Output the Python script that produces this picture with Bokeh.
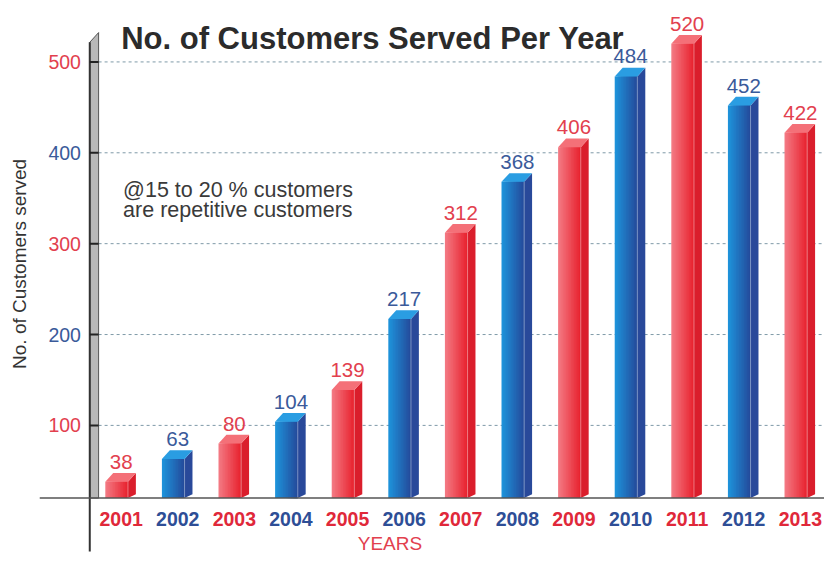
import math
from bokeh.plotting import figure
from bokeh.embed import file_html
from bokeh.resources import INLINE
from bokeh.core.properties import value

# ---------------- data ----------------
years = [2001, 2002, 2003, 2004, 2005, 2006, 2007, 2008, 2009, 2010, 2011, 2012, 2013]
customers = [38, 63, 80, 104, 139, 217, 312, 368, 406, 484, 520, 452, 422]
year_labels = [str(y) for y in years]
y_ticks = [100, 200, 300, 400, 500]
y_tick_labels = ["100", "200", "300", "400", "500"]
title_text = "No. of Customers Served Per Year"
note_lines = ["@15 to 20 % customers", "are repetitive customers"]
y_title = "No. of Customers served"
x_title = "YEARS"

# ---------------- styling / geometry ----------------
W, H = 824, 553
SX = 57.7          # reference px per year
SY = 0.935         # reference px per customer unit
BASE = 20          # value at the baseline
REF_X0 = 123       # reference pixel centre of first bar


def X(px):
    return years[0] + (px - REF_X0) / SX


def Y(py):
    return BASE + (512 - py) / SY


RED = dict(l=(243, 120, 130), r=(232, 36, 48), side="#DA1E2C", top="#F47078",
           text="#E2404E", year="#E0283A")
BLUE = dict(l=(30, 146, 218), r=(36, 76, 156), side="#29499A", top="#2A9DE2",
            text="#3A5A9A", year="#2E4E96")
FONT = value("Liberation Sans")

p = figure(width=W, height=H, x_range=(X(0), X(840)), y_range=(Y(569), Y(0)),
           x_axis_type=None, y_axis_type=None, toolbar_location=None,
           output_backend="svg", min_border=0)
p.outline_line_color = None
p.background_fill_color = "white"
p.border_fill_color = "white"

# gridlines
p.segment(x0=[X(100)] * len(y_ticks), x1=[X(840)] * len(y_ticks), y0=y_ticks, y1=y_ticks,
          line_color="#7f9aa8", line_width=1, line_dash="3 3")

# bars (3D, with gradient front faces)
FL, FR, SR = -0.28, 0.12, 0.26
DEPTH = 9 / SY
N = 14
ql, qr, qb, qt, qc = [], [], [], [], []
sx, sy, scol = [], [], []
tx, ty, tcol = [], [], []
lab_col, yr_col = [], []


def mix(a, b, t):
    return "#%02x%02x%02x" % tuple(int(round(a[i] + (b[i] - a[i]) * t)) for i in range(3))


for i, (yr, v) in enumerate(zip(years, customers)):
    pal = RED if i % 2 == 0 else BLUE
    lab_col.append(pal["text"])
    yr_col.append(pal["year"])
    w = (FR - FL) / N
    for k in range(N):
        ql.append(yr + FL + k * w)
        qr.append(yr + FR)
        qb.append(BASE)
        qt.append(v)
        qc.append(mix(pal["l"], pal["r"], k / (N - 1)))
    sx.append([yr + FR, yr + FR, yr + SR, yr + SR])
    sy.append([BASE, v, v + DEPTH, BASE + DEPTH * 0.45])
    scol.append(pal["side"])
    tx.append([yr + FL, yr + FR, yr + SR, yr + FL + (SR - FR)])
    ty.append([v, v, v + DEPTH, v + DEPTH])
    tcol.append(pal["top"])

p.quad(left=ql, right=qr, bottom=qb, top=qt, fill_color=qc, line_color=None)
p.patches(xs=sx, ys=sy, fill_color=scol, line_color=None)
p.patches(xs=tx, ys=ty, fill_color=tcol, line_color=None)
p.segment(x0=[yr + FR for yr in years], x1=[yr + FR for yr in years],
          y0=[BASE] * len(years), y1=customers, line_color="white", line_alpha=0.4, line_width=1)

# value labels
p.text(x=years, y=[v + 22 for v in customers], text=[str(v) for v in customers],
       text_color=lab_col, text_font=FONT, text_font_size="20.5px",
       text_align="center", text_baseline="middle")

# left post (axis)
p.patch(x=[X(91), X(100), X(100), X(91)], y=[BASE, BASE, Y(33), Y(43)],
        fill_color="#b8b8b8", line_color="#555555", line_width=1)
p.segment(x0=[X(91)], x1=[X(91)], y0=[Y(567)], y1=[Y(43)], line_color="#333333", line_width=2)
p.segment(x0=[X(91)] * len(y_ticks), x1=[X(100)] * len(y_ticks), y0=y_ticks, y1=y_ticks,
          line_color="#222222", line_width=2)
p.text(x=[X(82)] * len(y_ticks), y=y_ticks, text=y_tick_labels,
       text_color=[RED["text"] if k % 2 == 0 else BLUE["text"] for k in range(len(y_ticks))],
       text_font=FONT, text_font_size="19.5px", text_align="right", text_baseline="middle")

# baseline
p.segment(x0=[X(40)], x1=[X(840)], y0=[BASE], y1=[BASE], line_color="#555555", line_width=1.5)

# year labels
p.text(x=years, y=[Y(533)] * len(years), text=year_labels, text_color=yr_col,
       text_font=FONT, text_font_style="bold",
       text_font_size="19.5px", text_align="center", text_baseline="middle")

# axis titles
p.text(x=[X(397)], y=[Y(559)], text=[x_title], text_color=RED["text"], text_font=FONT,
       text_font_size="19px", text_align="center", text_baseline="middle")
p.text(x=[X(19)], y=[Y(271)], text=[y_title], angle=math.pi / 2, text_color="#333333",
       text_font=FONT, text_font_size="19px", text_align="center", text_baseline="middle")

# title and note
p.text(x=[X(123)], y=[Y(39)], text=[title_text], text_color="#2b2b2b", text_font=FONT,
       text_font_style="bold", text_font_size="31px", text_align="left",
       text_baseline="middle")
p.text(x=[X(125)] * 2, y=[Y(195), Y(216)], text=note_lines, text_color="#3a3a3a",
       text_font=FONT, text_font_size="21.5px", text_align="left", text_baseline="middle")

open("out.html", "w").write(file_html(p, INLINE))
